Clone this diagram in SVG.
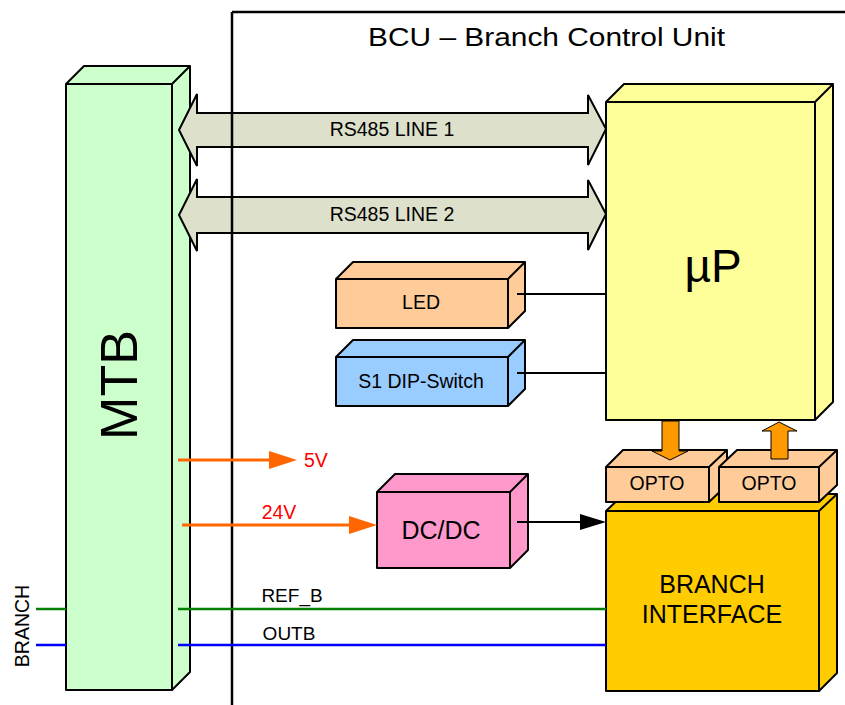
<svg xmlns="http://www.w3.org/2000/svg" width="845" height="705" viewBox="0 0 845 705">
<style>
.box{stroke:#000;stroke-width:2;stroke-linejoin:round}
.t{font-family:"Liberation Sans",Arial,sans-serif;fill:#000;text-anchor:middle}
.bus{fill:#DDE0CB;stroke:#000;stroke-width:2;stroke-linejoin:miter}
.red{font-family:"Liberation Sans",Arial,sans-serif;fill:#FF0000}
</style>
<rect width="845" height="705" fill="#fff"/>

<g id="mtb">
<polygon class="box" fill="#CCFFCC" points="66,84 84,66 190,66 190,672 172,690 66,690"/>
<polyline class="box" fill="none" points="66,84 172,84 190,66"/>
<line class="box" x1="172" y1="84" x2="172" y2="690"/>
<text class="t" font-size="52" transform="translate(137,385) rotate(-90)">MTB</text>
</g>

<g id="rs485-1">
<polygon class="bus" points="179,130 197,94 197,113 588,113 588,95 606,129 588,165 588,147 197,147 197,166"/>
<text class="t" font-size="19.5" x="392" y="136">RS485 LINE 1</text>
</g>
<g id="rs485-2">
<polygon class="bus" points="179,215 197,179 197,197 588,197 588,180 606,214 588,250 588,233 197,233 197,251"/>
<text class="t" font-size="19.5" x="392" y="221">RS485 LINE 2</text>
</g>

<g id="frame">
<line x1="232" y1="12" x2="232" y2="705" stroke="#000" stroke-width="2.5"/>
<line x1="232" y1="12" x2="845" y2="12" stroke="#000" stroke-width="2.5"/>
<text font-family="Liberation Sans, Arial, sans-serif" font-size="25" x="368" y="46" textLength="357" lengthAdjust="spacingAndGlyphs">BCU – Branch Control Unit</text>
</g>

<g id="up">
<polygon class="box" fill="#FFFF99" points="606,102 624,84 833,84 833,402 815,420 606,420"/>
<polyline class="box" fill="none" points="606,102 815,102 833,84"/>
<line class="box" x1="815" y1="102" x2="815" y2="420"/>
<text class="t" font-size="46" x="713" y="282">µP</text>
</g>

<g id="led">
<polygon class="box" fill="#FFCC99" points="336,279 353,262 525,262 525,311 508,328 336,328"/>
<polyline class="box" fill="none" points="336,279 508,279 525,262"/>
<line class="box" x1="508" y1="279" x2="508" y2="328"/>
<text class="t" font-size="19.5" x="421" y="309">LED</text>
</g>

<g id="dip">
<polygon class="box" fill="#99CCFF" points="336,357 353,340 525,340 525,389 508,406 336,406"/>
<polyline class="box" fill="none" points="336,357 508,357 525,340"/>
<line class="box" x1="508" y1="357" x2="508" y2="406"/>
<text class="t" font-size="19.5" x="421" y="388">S1 DIP-Switch</text>
</g>

<g id="dcdc">
<polygon class="box" fill="#FF99CC" points="377,492 395,474 528,474 528,550 510,568 377,568"/>
<polyline class="box" fill="none" points="377,492 510,492 528,474"/>
<line class="box" x1="510" y1="492" x2="510" y2="568"/>
<text class="t" font-size="25" x="441" y="539">DC/DC</text>
</g>

<g id="branch-if">
<polygon class="box" fill="#FFCC00" points="606,511 624,494 837,494 837,673 819,691 606,691"/>
<polyline class="box" fill="none" points="606,511 819,511 837,494"/>
<line class="box" x1="819" y1="511" x2="819" y2="691"/>
<text class="t" font-size="25" x="712" y="593">BRANCH</text>
<text class="t" font-size="25" x="712" y="623">INTERFACE</text>
</g>

<g id="opto1">
<polygon class="box" fill="#FFCC99" points="606,467 623,450 727,450 727,485 709,502 606,502"/>
<polyline class="box" fill="none" points="606,467 709,467 727,450"/>
<line class="box" x1="709" y1="467" x2="709" y2="502"/>
<text class="t" font-size="19.5" x="657" y="490">OPTO</text>
</g>
<g id="opto2">
<polygon class="box" fill="#FFCC99" points="719,467 737,450 837,450 837,485 819,502 719,502"/>
<polyline class="box" fill="none" points="719,467 819,467 837,450"/>
<line class="box" x1="819" y1="467" x2="819" y2="502"/>
<text class="t" font-size="19.5" x="769" y="490">OPTO</text>
</g>

<g id="connectors">
<line x1="517" y1="294" x2="606" y2="294" stroke="#000" stroke-width="2"/>
<line x1="517" y1="373" x2="606" y2="373" stroke="#000" stroke-width="2"/>
<polygon points="662,421 679,421 679,451 688,451 670,460 652,451 662,451" fill="#FF9900" stroke="#000" stroke-width="1"/>
<polygon points="771,459 788,459 788,431 797,431 779,422 762,431 771,431" fill="#FF9900" stroke="#000" stroke-width="1"/>
<line x1="178" y1="460" x2="275" y2="460" stroke="#FF6600" stroke-width="3"/>
<polygon points="269,451 297,460 269,469" fill="#FF6600"/>
<text class="red" font-size="19.5" x="304" y="467">5V</text>
<line x1="182" y1="525" x2="355" y2="525" stroke="#FF6600" stroke-width="3"/>
<polygon points="349,516 377,525 349,534" fill="#FF6600"/>
<text class="red" font-size="19.5" x="279" y="519" text-anchor="middle">24V</text>
<line x1="517" y1="522" x2="590" y2="522" stroke="#000" stroke-width="2"/>
<polygon points="580,514 606,522 580,530" fill="#000"/>
<line x1="36" y1="609" x2="66" y2="609" stroke="#008000" stroke-width="2.5"/>
<line x1="178" y1="609" x2="606" y2="609" stroke="#008000" stroke-width="2.5"/>
<line x1="36" y1="645" x2="66" y2="645" stroke="#0000FF" stroke-width="2.5"/>
<line x1="178" y1="645" x2="606" y2="645" stroke="#0000FF" stroke-width="2.5"/>
<text class="t" font-size="19" x="292" y="602">REF_B</text>
<text class="t" font-size="19" x="289" y="640">OUTB</text>
<text class="t" font-size="19.5" transform="translate(29,626) rotate(-90)">BRANCH</text>
</g>
</svg>
